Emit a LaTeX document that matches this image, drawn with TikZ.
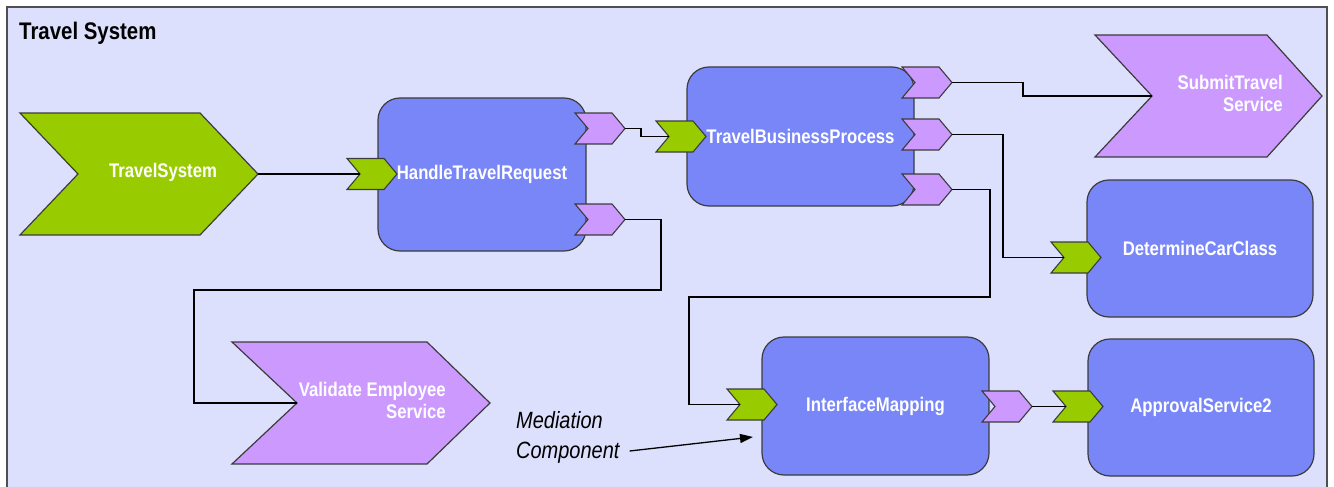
\documentclass[tikz,border=0pt]{standalone}
\usepackage{fontspec}
\setmainfont{Liberation Sans}[FakeStretch=0.85]
\usetikzlibrary{arrows.meta}
\definecolor{bgfill}{HTML}{DDE0FC}
\definecolor{boxblue}{HTML}{7886F8}
\definecolor{pgreen}{HTML}{99CC00}
\definecolor{ppurple}{HTML}{CC99FF}
\definecolor{edgegray}{HTML}{3C3C3C}
\definecolor{framegray}{HTML}{505050}
\tikzset{
  compbox/.style={draw=edgegray, line width=1.2pt, fill=boxblue, rounded corners=22pt,
    inner sep=0pt, text=white, font=\fontsize{19.7}{22}\selectfont\bfseries},
  chevshape/.style={draw=edgegray, line width=1.2pt, line join=miter},
  portshape/.style={draw=edgegray, line width=1.1pt, line join=miter},
  chevlabel/.style={text=white, inner sep=0pt, font=\fontsize{19.7}{22}\selectfont\bfseries},
  wire/.style={draw=black, line width=1.3pt},
  notetext/.style={inner sep=0pt, align=left, font=\fontsize{23.5}{30}\selectfont\itshape},
  titletext/.style={inner sep=0pt, font=\fontsize{24}{26}\selectfont\bfseries}
}
% port: name, left x, top y, colour
\newcommand\drawport[4]{%
  \path[portshape, fill=#4] (#2,#3) -- (#2+37,#3) -- (#2+50,#3+15.5) -- (#2+37,#3+31)
     -- (#2,#3+31) -- (#2+13,#3+15.5) -- cycle;
  \coordinate (#1-in) at (#2+13,#3+15.5);
  \coordinate (#1-out) at (#2+50,#3+15.5);
}
\begin{document}
\begin{tikzpicture}[x=1pt,y=-1pt]
\clip (0,0) rectangle (1334,487);
\fill[white] (0,0) rectangle (1334,487);
\draw[draw=framegray, line width=1.3pt, fill=bgfill] (7,7) rectangle (1327,520);
\node[titletext, anchor=west] (title) at (19,33) {Travel System};

% big chevrons
\path[chevshape, fill=pgreen] (20,113) -- (200,113) -- (258,174) -- (200,235) -- (20,235) -- (78,174) -- cycle;
\coordinate (ts-out) at (258,174);
\node[chevlabel] (tslabel) at (163,172) {TravelSystem};

\path[chevshape, fill=ppurple] (1095,35) -- (1267,35) -- (1322,96) -- (1267,157) -- (1095,157) -- (1152,96) -- cycle;
\coordinate (sts-in) at (1152,96);
\node[chevlabel, anchor=east, align=right] (stslabel) at (1283,93) {SubmitTravel\\Service};

\path[chevshape, fill=ppurple] (232,342) -- (427,342) -- (490,403) -- (427,464) -- (232,464) -- (297,403) -- cycle;
\coordinate (ves-in) at (297,403);
\node[chevlabel, anchor=east, align=right] (veslabel) at (446,400) {Validate Employee\\Service};

% component boxes
\node[compbox, minimum width=208pt, minimum height=153pt] (htr) at (482,174.5) {HandleTravelRequest};
\node[compbox, minimum width=227pt, minimum height=139pt] (tbp) at (800.5,136.5) {TravelBusinessProcess};
\node[compbox, minimum width=226pt, minimum height=137pt] (dcc) at (1200,248.5) {DetermineCarClass};
\node[compbox, minimum width=227pt, minimum height=138pt] (im) at (875.5,406) {InterfaceMapping};
\node[compbox, minimum width=226pt, minimum height=137pt] (as2) at (1201,407.5) {ApprovalService2};

% ports
\drawport{htrin}{347}{158.5}{pgreen}
\drawport{htrout1}{575}{113}{ppurple}
\drawport{htrout2}{575}{204}{ppurple}
\drawport{tbpin}{656}{121}{pgreen}
\drawport{tbpout1}{902}{67}{ppurple}
\drawport{tbpout2}{902}{119}{ppurple}
\drawport{tbpout3}{902}{174}{ppurple}
\drawport{dccin}{1051}{242}{pgreen}
\drawport{imin}{727}{389}{pgreen}
\drawport{imout}{982}{391}{ppurple}
\drawport{as2in}{1053}{391}{pgreen}

% connectors
\draw[wire] (ts-out) -- (htrin-in);
\draw[wire] (htrout1-out) -- ++(16,0) |- (tbpin-in);
\draw[wire] (htrout2-out) -| (661,290) -| (194,403) -- (ves-in);
\draw[wire] (tbpout1-out) -| (1023,96) -- (sts-in);
\draw[wire] (tbpout2-out) -| (1003,257.5) -- (dccin-in);
\draw[wire] (tbpout3-out) -| (990,297) -| (689,404.5) -- (imin-in);
\draw[wire] (imout-out) -- (as2in-in);

% note
\node[notetext, anchor=west] (mc) at (516,437) {Mediation\\Component};
\coordinate (mc-tip) at (753,437);
\draw[wire, -{Triangle[length=13pt,width=9pt]}] ([xshift=10pt,yshift=-14pt]mc.east) -- (mc-tip);
\end{tikzpicture}
\end{document}
